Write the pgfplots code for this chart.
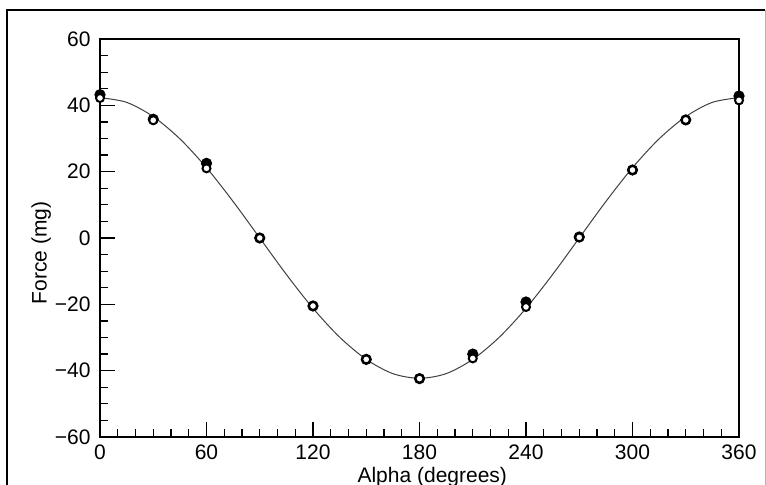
\documentclass[border=0pt]{standalone}
\usepackage{fontspec}
\setmainfont{Liberation Sans}
\usepackage{pgfplots}
\pgfplotsset{compat=1.18}

\begin{document}
\begin{tikzpicture}
\fontsize{10.5}{12.5}\selectfont
% page size and the scanned frame
\path[use as bounding box] (-50pt,-24pt) rectangle (333pt,218.5pt);
\draw[line width=1pt] (-46.5pt,-24pt) -- (-46.5pt,213.5pt) -- (332.5pt,213.5pt);
\draw[line width=0.4pt,black!30] (332.5pt,213.5pt) -- (332.5pt,-24pt);

\begin{axis}[
    width=319.5pt, height=199pt,
    scale only axis,
    xmin=0, xmax=360,
    ymin=-60, ymax=60,
    axis line style={line width=0.75pt},
    xtick={0,60,...,360},
    ytick={-60,-40,...,60},
    yticklabels={−60,−40,−20,0,20,40,60},
    minor x tick num=5,
    minor y tick num=3,
    tick align=inside,
    xtick pos=bottom, ytick pos=left,
    major tick length=7.5pt,
    minor tick length=4pt,
    tick style={line width=0.6pt, black},
    /pgf/number format/assume math mode=true,
    xticklabel style={yshift=0pt},
    yticklabel style={xshift=-1pt},
    xlabel={Alpha (degrees)},
    ylabel={Force (mg)},
    every axis x label/.style={at={(axis description cs:0.52,-0.1)}, anchor=center},
    every axis y label/.style={at={(axis description cs:-0.092,0.462)}, anchor=center, rotate=90},
    clip=false,
]
% fitted curve, every 15 degrees
\addplot[smooth, line width=0.5pt, black!75] coordinates {
(0,42.3)(15,40.9)(30,36.6)(45,29.9)(60,21.2)(75,11.0)(90,0)
(105,-11.0)(120,-21.2)(135,-29.9)(150,-36.6)(165,-40.9)(180,-42.3)
(195,-40.9)(210,-36.6)(225,-29.9)(240,-21.2)(255,-11.0)(270,0)
(285,11.0)(300,21.2)(315,29.9)(330,36.6)(345,40.9)(360,42.3)
};
% filled circles
\addplot[only marks, mark=*, mark size=2.6pt, black] coordinates {
(0,43.2)(30,35.8)(60,22.5)(90,0)(120,-20.5)(150,-36.6)(180,-42.4)
(210,-35.0)(240,-19.3)(270,0.3)(300,20.5)(330,35.6)(360,42.8)
};
% open circles
\addplot[only marks, mark=*, mark size=2pt, mark options={fill=white, draw=black, line width=1pt}] coordinates {
(0,42.2)(30,35.5)(60,21.0)(90,0)(120,-20.5)(150,-36.6)(180,-42.4)
(210,-36.3)(240,-20.8)(270,0.2)(300,20.5)(330,35.6)(360,41.5)
};
\end{axis}
\end{tikzpicture}
\end{document}
